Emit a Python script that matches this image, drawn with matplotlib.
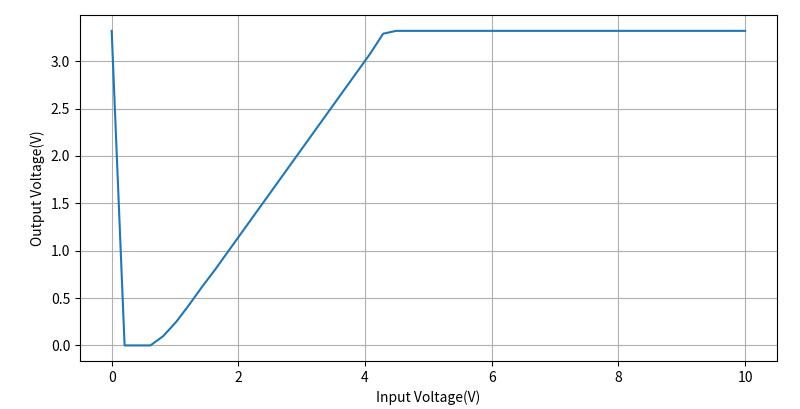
import numpy as np
import matplotlib
matplotlib.use("Agg")
import matplotlib.pyplot as plt

plt.rcParams["font.family"] = ["Noto Sans CJK SC", "DejaVu Sans"]
plt.rcParams["axes.unicode_minus"] = False

# input voltage sweep (50 points, 0..10 V)
v_in = np.linspace(0, 10, 50)
v_out = [
    3.32, 0.0, 0.0, 0.0, 0.10, 0.25, 0.43, 0.62, 0.80, 0.99,
    1.18, 1.37, 1.56, 1.75, 1.94, 2.13, 2.32, 2.51, 2.70, 2.89,
    3.08, 3.29, 3.32, 3.32, 3.32, 3.32, 3.32, 3.32, 3.32, 3.32,
    3.32, 3.32, 3.32, 3.32, 3.32, 3.32, 3.32, 3.32, 3.32, 3.32,
    3.32, 3.32, 3.32, 3.32, 3.32, 3.32, 3.32, 3.32, 3.32, 3.32,
]

fig, ax = plt.subplots(figsize=(8, 4.09), dpi=100)
fig.subplots_adjust(left=0.1, right=0.971, top=0.963, bottom=0.117)
ax.plot(v_in, v_out, color="tab:blue")
ax.set_xlabel("Input Voltage(V)")
ax.set_ylabel("Output Voltage(V)")
ax.grid(True)
fig.savefig("out.png")
